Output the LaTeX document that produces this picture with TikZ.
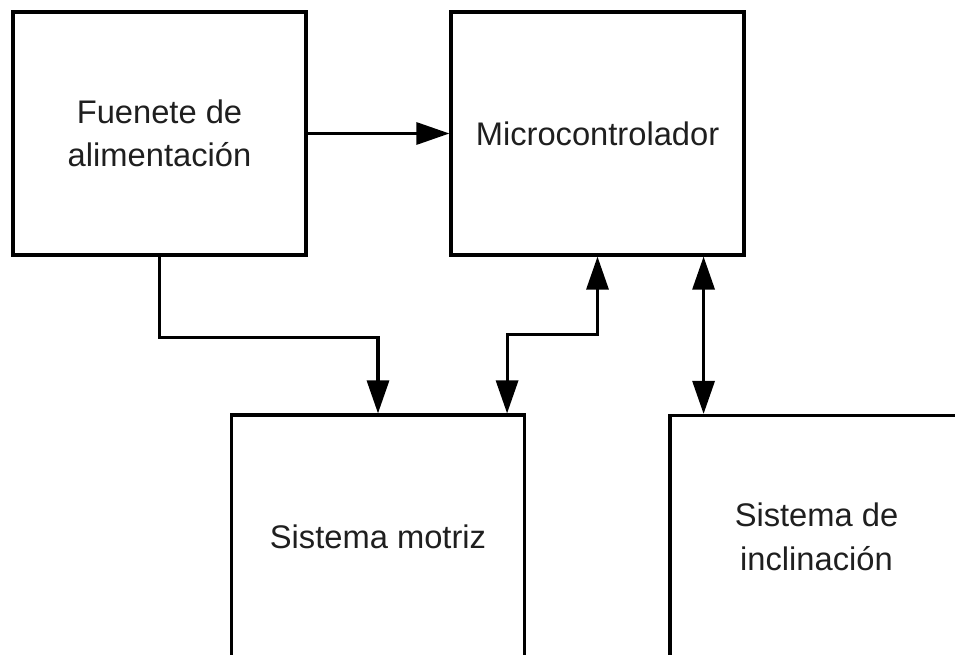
\documentclass[tikz,border=0pt]{standalone}
\usepackage{fontspec}
\setmainfont{Liberation Sans}
\usepackage{tikz}
\usetikzlibrary{arrows.meta}

\tikzset{
  bloque/.style={draw, line width=0.9pt, minimum width=2.93cm, minimum height=2.43cm,
    align=center, inner sep=0pt, text=black!88, font=\fontsize{9.3}{12.4}\selectfont},
  flecha/.style={line width=0.9pt, -{Triangle[length=3.3mm, width=2.2mm]}},
  doble/.style={line width=0.9pt, {Triangle[length=3.3mm, width=2.2mm]}-{Triangle[length=3.3mm, width=2.2mm]}}
}

\begin{document}
\begin{tikzpicture}
\useasboundingbox (0,0) rectangle (9.55,6.55);
\clip (0,0) rectangle (9.55,6.55);

% bloques
\node[bloque] (fuente) at (1.595,5.215) {Fuenete de\\alimentación};
\node[bloque] (micro) at (5.975,5.215) {Microcontrolador};
\node[bloque] (motriz) at (3.78,1.185) {Sistema motriz};
\node[bloque] (incl) at (8.165,1.18) {Sistema de\\inclinación};

% conexiones
\draw[flecha] (fuente.east) -- (micro.west);
\draw[flecha] (fuente.south) -- ++(0,-0.81) -| (motriz.north);
\draw[doble] ([xshift=-0.19cm]motriz.north east) -- ++(0,0.79) -| (micro.south);
\draw[doble] ([xshift=-0.42cm]micro.south east) -- ([xshift=-0.42cm]micro.south east |- incl.north);
\end{tikzpicture}
\end{document}
